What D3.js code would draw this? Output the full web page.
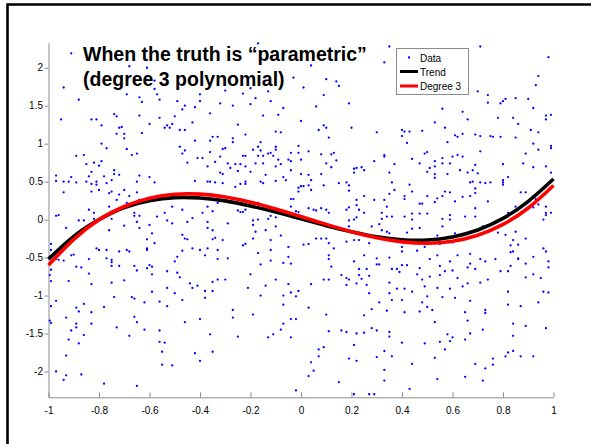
<!DOCTYPE html>
<html>
<head>
<meta charset="utf-8">
<script src="https://cdn.jsdelivr.net/npm/d3@7"></script>
<style>
  html, body { margin: 0; padding: 0; background: #fff; }
  svg { display: block; }
  text { font-family: "Liberation Sans", Arial, Helvetica, sans-serif; }
</style>
</head>
<body>
<svg id="chart" width="591" height="444"></svg>
<script>
// Noisy observations around the true curve
const points = [
  [-0.91,2.19],[-0.94,1.74],[-0.88,1.58],[-0.95,1.32],[-0.83,1.32],[-0.81,1.32],[-0.74,1.39],[-0.73,1.36],[-0.79,1.24],[-0.72,1.21],
  [-0.71,1.22],[-0.73,1.13],[-0.70,1.13],[-0.70,1.07],[-0.79,1.00],[-0.77,0.94],[-0.89,0.84],[-0.86,0.85],[-0.85,0.73],[-0.79,0.77],
  [-0.82,0.75],[-0.80,0.71],[-0.83,0.63],[-0.84,0.57],[-0.81,0.46],[-0.83,0.47],[-0.81,0.50],[-0.80,0.39],[-0.83,0.37],[-0.97,0.58],
  [-0.97,0.51],[-0.94,0.50],[-0.92,0.50],[-0.91,0.56],[-0.89,0.49],[-0.94,0.36],[-0.85,0.50],[-0.74,0.65],[-0.74,0.60],[-0.72,0.59],
  [-0.75,0.52],[-0.78,0.57],[-0.77,0.48],[-0.75,0.37],[-0.76,0.35],[-0.72,0.33],[-0.70,0.39],[-0.68,0.31],[-0.65,0.36],[-0.65,0.50],
  [-0.64,0.58],[-0.60,0.56],[-0.58,0.49],[-0.69,0.93],[-0.67,0.85],[-0.65,0.87],[-0.69,1.65],[-0.68,2.02],[-0.64,1.61],[-0.64,1.37],
  [-0.63,1.55],[-0.60,1.26],[-0.58,1.72],[-0.57,1.65],[-0.56,1.34],[-0.56,1.58],[-0.54,1.21],[-0.53,1.24],[-0.51,1.26],[-0.52,1.21],
  [-0.50,1.36],[-0.48,1.18],[-0.48,0.96],[-0.47,0.87],[-0.46,1.18],[-0.45,0.75],[-0.46,1.50],[-0.47,1.45],[-0.43,1.28],[-0.42,1.48],
  [-0.40,1.56],[-0.40,1.65],[-0.35,1.09],[-0.36,1.04],[-0.37,0.70],[-0.37,0.50],[-0.36,0.50],[-0.41,0.81],[-0.39,0.81],[-0.42,0.51],
  [-0.42,1.04],[-0.46,0.91],[-0.49,1.56],[-0.63,1.14],[-0.61,2.00],[-0.58,1.83],[-0.61,1.84],[-0.84,0.13],[-0.82,0.09],[-0.76,0.17],
  [-0.73,0.26],[-0.69,0.22],[-0.66,0.09],[-0.64,0.26],[-0.57,0.31],[-0.54,0.09],[-0.51,0.17],[-0.47,0.13],[-0.43,0.02],[-0.39,0.09],
  [-0.37,0.17],[-0.35,0.11],
  [-0.17,2.32],[0.04,2.03],[0.33,2.07],[-0.03,1.87],[0.10,1.85],[0.14,1.82],[0.15,1.76],[0.01,1.74],[0.09,1.64],[-0.30,1.70],
  [-0.23,1.66],[-0.20,1.73],[-0.18,1.60],[-0.13,1.69],[-0.32,1.53],[-0.27,1.50],[-0.20,1.52],[-0.12,1.56],[0.06,1.49],[0.19,1.53],
  [-0.15,1.37],[-0.09,1.38],[-0.07,1.47],[-0.36,1.40],[-0.25,1.25],[0.00,1.30],[0.09,1.24],[0.07,1.18],[0.10,1.21],[0.11,1.08],
  [0.20,1.21],[0.30,1.15],[-0.22,1.12],[-0.10,1.16],[-0.08,1.15],[-0.33,1.09],[-0.27,1.07],[-0.27,1.02],[-0.31,0.93],[-0.30,0.94],
  [-0.32,0.83],[-0.34,0.76],[-0.36,0.89],[-0.19,0.92],[-0.17,0.96],[-0.16,1.02],[-0.16,0.91],[-0.15,0.84],[-0.17,0.84],[-0.23,0.84],
  [-0.22,0.84],[-0.13,0.87],[-0.12,0.88],[-0.10,0.96],[-0.10,0.92],[-0.11,0.84],[-0.09,0.79],[-0.08,0.73],[-0.04,0.88],[-0.01,0.88],
  [-0.01,0.97],[-0.05,0.79],[-0.04,0.77],[0.00,0.79],[0.03,0.90],[0.08,0.86],[0.12,0.86],[0.13,0.88],[0.14,0.78],[0.10,0.74],
  [0.12,0.69],[0.08,0.60],[-0.32,0.62],[-0.31,0.60],[-0.29,0.74],[-0.26,0.73],[-0.24,0.73],[-0.22,0.70],[-0.28,0.68],[-0.25,0.64],
  [-0.18,0.74],[-0.20,0.63],[-0.15,0.74],[-0.14,0.59],[-0.10,0.70],[-0.07,0.56],[-0.06,0.52],[-0.10,0.51],[-0.16,0.50],[-0.15,0.48],
  [-0.22,0.50],[-0.22,0.47],[-0.24,0.47],[-0.26,0.43],[-0.31,0.48],[-0.34,0.49],[-0.04,0.65],[0.00,0.60],[0.03,0.59],[0.04,0.52],
  [-0.01,0.42],[-0.01,0.37],[0.00,0.44],[0.01,0.44],[0.03,0.45],[0.04,0.39],[-0.04,0.27],[-0.03,0.27],[0.09,0.45],[0.15,0.48],
  [0.18,0.49],[0.19,0.45],[0.19,0.38],[0.21,0.62],[0.21,0.67],[0.22,0.68],[0.24,0.69],[0.25,0.65],[0.29,0.77],[0.33,0.85],
  [0.22,0.26],[0.22,0.19],[0.25,0.31],[0.29,0.26],[0.33,0.26],[0.18,0.13],[0.19,0.16],[0.23,0.13],[0.25,0.09],[0.10,0.13],
  [0.11,0.09],[0.03,0.15],[0.05,0.13],[0.08,0.15],[0.06,0.12],[-0.29,0.24],[-0.25,0.12],[-0.24,0.10],[-0.23,0.10],[-0.22,0.13],
  [-0.17,0.22],[-0.14,0.17],[-0.12,0.05],[-0.10,0.03],[-0.04,0.17],[-0.02,0.11],[-0.01,0.10],[-0.33,0.22],
  [0.35,2.28],[0.71,2.28],[0.98,2.14],[0.94,1.89],[0.93,1.77],[0.70,1.69],[0.74,1.64],[0.74,1.54],[0.79,1.53],[0.80,1.56],
  [0.81,1.59],[0.85,1.60],[0.90,1.59],[0.92,1.47],[0.56,1.46],[0.64,1.42],[0.66,1.32],[0.78,1.34],[0.84,1.34],[0.86,1.26],
  [0.97,1.37],[0.99,1.38],[0.97,1.32],[0.53,1.28],[0.57,1.21],[0.40,1.18],[0.40,1.10],[0.41,1.16],[0.43,1.16],[0.48,1.17],
  [0.42,1.01],[0.61,1.11],[0.62,1.09],[0.64,1.13],[0.69,1.12],[0.71,1.10],[0.75,1.10],[0.76,1.09],[0.79,1.09],[0.85,1.08],
  [0.91,1.18],[0.94,1.15],[0.92,1.00],[0.94,0.92],[0.99,0.94],[0.99,0.97],[0.58,1.02],[0.71,0.90],[0.49,0.87],[0.50,0.89],
  [0.44,0.80],[0.47,0.74],[0.53,0.77],[0.56,0.74],[0.59,0.74],[0.56,0.81],[0.60,0.83],[0.62,0.85],[0.64,0.83],[0.89,0.87],
  [0.88,0.74],[0.92,0.69],[0.97,0.70],[0.80,0.73],[0.37,0.73],[0.35,0.62],[0.33,0.83],[0.36,0.49],[0.35,0.34],[0.37,0.39],
  [0.43,0.46],[0.44,0.37],[0.41,0.31],[0.41,0.27],[0.50,0.63],[0.51,0.68],[0.53,0.70],[0.53,0.60],[0.53,0.55],[0.58,0.60],
  [0.63,0.65],[0.66,0.62],[0.68,0.65],[0.69,0.72],[0.70,0.61],[0.67,0.49],[0.68,0.50],[0.71,0.49],[0.73,0.48],[0.75,0.49],
  [0.80,0.49],[0.80,0.52],[0.82,0.56],[0.89,0.36],[0.92,0.31],[0.93,0.27],[0.97,0.17],[0.99,0.62],[0.50,0.31],[0.53,0.23],
  [0.54,0.28],[0.56,0.31],[0.57,0.37],[0.59,0.36],[0.61,0.24],[0.64,0.30],[0.67,0.31],[0.69,0.35],[0.69,0.41],[0.74,0.24],
  [0.80,0.46],[0.87,0.36],[0.47,0.21],[0.48,0.21],[0.34,0.17],[0.32,0.09],[0.44,0.08],[0.47,0.08],[0.50,0.08],[0.59,0.06],
  [0.65,0.04],[0.69,0.15],[0.82,0.09],[0.85,0.17],[0.92,0.16],[0.94,0.20],[0.97,0.09],[0.99,0.09],
  [-0.97,0.05],[-0.96,0.06],[-0.88,-0.01],[-0.86,-0.01],[-0.82,0.01],[-0.78,0.05],[-0.75,0.01],[-0.66,0.05],[-0.64,0.05],[-0.57,0.04],
  [-0.53,-0.01],[-0.51,-0.05],[-0.45,-0.03],[-0.37,-0.03],[-0.35,-0.14],[-0.34,-0.24],[-0.99,-0.32],[-0.99,-0.40],[-0.97,-0.52],[-0.96,-0.53],
  [-0.94,-0.54],[-0.93,-0.11],[-0.91,-0.47],[-0.90,-0.46],[-0.89,-0.62],[-0.84,-0.52],[-0.81,-0.38],[-0.80,-0.40],[-0.77,-0.51],[-0.76,-0.14],
  [-0.75,-0.53],[-0.75,-0.56],[-0.75,-0.61],[-0.77,-0.40],[-0.72,-0.42],[-0.72,-0.61],[-0.70,-0.08],[-0.69,-0.40],[-0.68,-0.42],[-0.66,-0.61],
  [-0.65,-0.67],[-0.65,-0.03],[-0.64,-0.11],[-0.61,-0.26],[-0.61,-0.38],[-0.61,-0.40],[-0.60,-0.07],[-0.59,-0.18],[-0.58,-0.31],[-0.61,-0.64],
  [-0.60,-0.60],[-0.59,-0.62],[-0.59,-0.72],[-0.53,-0.68],[-0.53,-0.90],[-0.49,-0.49],[-0.50,-0.55],[-0.49,-0.70],[-0.48,-0.76],[-0.47,-0.20],
  [-0.46,-0.25],[-0.47,-0.41],[-0.45,-0.26],[-0.44,-0.84],[-0.43,-0.38],[-0.43,-0.90],[-0.41,-0.87],[-0.40,-0.40],[-0.38,-0.94],[-0.38,-0.47],
  [-0.37,-0.11],[-0.37,-0.38],[-0.35,-0.26],[-0.35,-0.82],[-0.99,-0.66],[-0.995,-0.73],[-0.99,-0.81],[-0.97,-1.07],[-0.99,-1.14],[-0.92,-0.81],
  [-0.89,-1.16],[-0.86,-1.11],[-0.87,-0.63],[-0.84,-0.71],[-0.83,-0.85],[-0.75,-0.83],[-0.74,-1.02],[-0.70,-0.80],[-0.67,-1.02],[-0.66,-1.04],
  [-0.62,-1.09],[-0.59,-0.95],[-0.56,-1.08],[-0.53,-1.14],[-0.50,-0.97],[-0.47,-1.06],[-0.38,-1.03],[-0.35,-0.94],[-0.995,-1.33],[-0.99,-1.36],
  [-0.93,-1.29],[-0.91,-1.46],[-0.89,-1.42],[-0.89,-1.37],[-0.88,-1.21],[-0.88,-1.63],[-0.86,-1.52],[-0.83,-1.22],[-0.83,-1.37],[-0.78,-1.15],
  [-0.73,-1.42],[-0.68,-1.53],[-0.66,-1.28],[-0.65,-1.35],[-0.62,-1.45],[-0.56,-1.46],[-0.56,-1.61],[-0.54,-1.62],[-0.55,-1.74],[-0.55,-1.91],
  [-0.46,-1.35],[-0.40,-1.31],[-0.42,-1.76],[-0.40,-1.86],[-0.36,-1.51],[-0.35,-1.74],[-0.97,-2.00],[-0.94,-2.11],[-0.93,-2.05],[-0.93,-1.79],
  [-0.92,-1.58],[-0.87,-2.04],[-0.78,-2.16],[-0.65,-2.19],[-0.51,-1.92],
  [-0.29,-0.05],[-0.19,-0.01],[-0.17,0.00],[-0.13,0.01],[-0.19,-0.07],[-0.18,-0.16],[-0.19,-0.25],[-0.14,-0.14],[-0.10,-0.09],[-0.12,-0.27],
  [-0.08,-0.21],[-0.31,-0.27],[-0.33,-0.40],[-0.33,-0.52],[-0.29,-0.51],[-0.23,-0.34],[-0.22,-0.32],[-0.17,-0.44],[-0.16,-0.59],[-0.12,-0.40],
  [-0.12,-0.54],[-0.07,-0.57],[-0.05,-0.36],[-0.05,-0.49],[-0.04,-0.58],[0.01,-0.33],[0.03,-0.32],[0.06,-0.25],[0.08,-0.25],[0.10,-0.25],
  [0.11,-0.31],[0.13,-0.38],[0.11,-0.47],[0.11,-0.52],[0.12,-0.62],[0.18,-0.29],[0.19,-0.09],[0.19,-0.01],[0.21,0.00],[0.22,0.03],
  [0.21,-0.27],[0.23,-0.27],[0.28,-0.09],[0.27,-0.31],[0.31,-0.06],[0.32,-0.14],[0.32,0.01],[0.30,-0.59],[0.30,-0.51],[0.26,-0.65],
  [0.25,-0.47],[0.23,-0.65],[0.21,-0.55],[-0.33,-0.79],[-0.30,-0.79],[-0.20,-0.72],[-0.21,-0.90],[-0.16,-1.00],[-0.14,-0.87],[-0.10,-0.79],
  [-0.05,-0.85],[-0.04,-0.96],[-0.07,-1.00],[-0.07,-1.12],[-0.02,-1.01],[-0.01,-0.94],[0.04,-0.85],[0.09,-0.79],[0.11,-0.79],[0.16,-0.73],
  [0.18,-0.86],[0.18,-0.77],[0.19,-0.79],[0.22,-0.84],[0.23,-0.73],[0.24,-0.78],[0.26,-0.86],[0.27,-0.97],[0.27,-0.74],[-0.27,-1.19],
  [-0.27,-1.29],[-0.19,-1.25],[-0.25,-1.54],[-0.13,-1.55],[-0.11,-1.51],[-0.08,-1.45],[-0.07,-1.37],[-0.04,-1.31],[-0.02,-1.31],[-0.04,-1.55],
  [0.03,-1.16],[0.10,-1.25],[0.11,-1.47],[0.16,-1.46],[0.18,-1.48],[0.22,-1.50],[0.25,-1.49],[0.28,-1.43],[0.30,-1.46],[0.25,-1.26],
  [0.28,-1.18],[0.31,-1.09],[0.07,-1.71],[0.09,-1.68],[0.07,-1.80],[0.04,-1.88],[0.05,-1.99],[0.03,-2.06],[0.19,-1.83],[0.22,-1.86],
  [0.21,-1.65],[0.30,-1.81],[0.33,-1.73],[0.33,-1.98],[0.33,-2.12],[0.15,-2.14],[-0.02,-2.25],[0.21,-2.30],[0.27,-2.30],[0.29,-2.30],
  [0.34,0.04],[0.36,0.04],[0.41,0.04],[0.44,0.00],[0.47,-0.11],[0.56,0.01],[0.56,-0.09],[0.59,0.00],[0.69,0.04],[0.96,0.00],
  [0.97,0.06],[0.34,-0.16],[0.35,-0.18],[0.42,-0.17],[0.44,-0.12],[0.46,-0.41],[0.40,-0.36],[0.40,-0.42],[0.49,-0.36],[0.54,-0.21],
  [0.55,-0.32],[0.60,-0.30],[0.61,-0.18],[0.72,-0.09],[0.78,-0.17],[0.81,-0.20],[0.83,-0.34],[0.84,-0.27],[0.85,-0.16],[0.89,-0.25],
  [0.86,-0.33],[0.84,-0.42],[0.86,-0.51],[0.89,-0.58],[0.92,-0.49],[0.96,-0.38],[0.98,-0.55],[0.98,-0.63],[0.97,-0.42],[0.31,-0.59],
  [0.35,-0.50],[0.36,-0.65],[0.38,-0.65],[0.39,-0.69],[0.40,-0.60],[0.42,-0.60],[0.46,-0.72],[0.47,-0.64],[0.48,-0.79],[0.51,-0.52],
  [0.51,-0.75],[0.54,-0.47],[0.55,-0.61],[0.55,-0.73],[0.57,-0.68],[0.59,-0.55],[0.60,-0.67],[0.62,-0.77],[0.62,-0.47],[0.66,-0.63],
  [0.67,-0.45],[0.67,-0.58],[0.69,-0.65],[0.71,-0.52],[0.73,-0.55],[0.74,-0.79],[0.77,-0.52],[0.79,-0.68],[0.82,-0.68],[0.83,-0.61],
  [0.83,-0.43],[0.86,-0.52],[0.89,-0.76],[0.92,-0.72],[0.95,-0.77],[0.66,-0.84],[0.71,-0.83],[0.35,-0.83],[0.35,-0.97],[0.38,-0.91],
  [0.36,-1.06],[0.40,-1.06],[0.41,-0.91],[0.44,-0.95],[0.41,-1.22],[0.47,-1.21],[0.48,-1.09],[0.49,-0.88],[0.50,-1.01],[0.50,-1.15],
  [0.52,-1.19],[0.53,-1.35],[0.54,-0.90],[0.56,-1.02],[0.59,-0.91],[0.61,-1.03],[0.64,-0.88],[0.67,-1.07],[0.65,-1.22],[0.66,-1.33],
  [0.67,-1.50],[0.72,-1.45],[0.73,-1.23],[0.73,-1.19],[0.82,-0.95],[0.82,-1.12],[0.84,-1.37],[0.87,-1.14],[0.89,-1.40],[0.94,-1.09],
  [0.96,-0.95],[0.98,-0.96],[0.97,-1.43],[0.34,-1.20],[0.35,-1.48],[0.35,-1.54],[0.40,-1.62],[0.49,-1.63],[0.55,-1.61],[0.57,-1.71],
  [0.58,-1.51],[0.59,-1.60],[0.60,-1.55],[0.65,-1.58],[0.36,-1.80],[0.44,-1.90],[0.53,-1.82],[0.54,-2.10],[0.65,-2.07],[0.69,-1.90],
  [0.72,-2.12],[0.73,-1.96],[0.76,-1.83],[0.76,-1.91],[0.81,-1.80],[0.82,-1.75],[0.84,-1.73],[0.87,-1.80],[0.92,-1.80],[0.84,-1.53],
  [0.43,-2.23]
];

// Sample positions along x for the two smooth curves
const curveX   = [-1, -0.9, -0.8, -0.7, -0.6, -0.5, -0.4, -0.3, -0.2, -0.1, 0, 0.1, 0.2, 0.3, 0.4, 0.5, 0.6, 0.7, 0.8, 0.9, 1];
// True underlying curve
const trendY   = [-0.52, -0.22, 0.00, 0.16, 0.25, 0.29, 0.285, 0.247, 0.18, 0.10, 0.01, -0.08, -0.16, -0.227, -0.265, -0.269, -0.229, -0.137, 0.016, 0.24, 0.535];
// Fitted cubic
const degree3Y = [-0.60, -0.26, 0.00, 0.173, 0.283, 0.334, 0.336, 0.298, 0.230, 0.141, 0.04, -0.063, -0.159, -0.239, -0.293, -0.311, -0.285, -0.206, -0.063, 0.153, 0.45];

const xTicks = [-1, -0.8, -0.6, -0.4, -0.2, 0, 0.2, 0.4, 0.6, 0.8, 1];
const yTicks = [-2, -1.5, -1, -0.5, 0, 0.5, 1, 1.5, 2];
const xDomain = [-1, 1];
const yDomain = [-2.34, 2.33];

const titleLines = ["When the truth is \u201Cparametric\u201D", "(degree 3 polynomial)"];
const legendLabels = ["Data", "Trend", "Degree 3"];
const seriesColors = { data: "#0000ff", trend: "#000000", fit: "#ff0000" };

// ---- layout ----
const plot = { left: 48.5, right: 553.5, top: 42.7, bottom: 397.3 };
const svg = d3.select("#chart");

const x = d3.scaleLinear().domain(xDomain).range([plot.left, plot.right]);
const y = d3.scaleLinear().domain(yDomain).range([plot.bottom, plot.top]);

// figure frame
svg.append("path")
  .attr("d", "M7.5,444 V4.5 H591")
  .attr("fill", "none")
  .attr("stroke", "#000")
  .attr("stroke-width", 2.6);

svg.append("clipPath").attr("id", "plotClip")
  .append("rect")
  .attr("x", plot.left - 2).attr("y", plot.top - 2)
  .attr("width", plot.right - plot.left + 4)
  .attr("height", plot.bottom - plot.top + 4);

// axes
const axisColor = "#8c8c8c";
const xAxis = svg.append("g")
  .attr("transform", `translate(0,${plot.bottom})`)
  .call(d3.axisBottom(x).tickValues(xTicks).tickFormat(d => String(d))
        .tickSizeInner(-5).tickSizeOuter(0));
xAxis.selectAll("text").attr("y", 16.5).attr("dy", 0);

const yAxis = svg.append("g")
  .attr("transform", `translate(${plot.left},0)`)
  .call(d3.axisLeft(y).tickValues(yTicks).tickFormat(d => String(d))
        .tickSizeInner(4).tickSizeOuter(0).tickPadding(1.5));

[xAxis, yAxis].forEach(g => {
  g.select(".domain").attr("stroke", axisColor);
  g.selectAll(".tick line").attr("stroke", axisColor);
  g.selectAll(".tick text")
    .attr("fill", "#000")
    .style("font-family", "'Liberation Sans', Arial, sans-serif")
    .style("font-size", "10px");
});

// scatter
const plotArea = svg.append("g").attr("clip-path", "url(#plotClip)");
plotArea.append("g")
  .selectAll("circle")
  .data(points)
  .join("circle")
  .attr("cx", d => x(d[0]))
  .attr("cy", d => y(d[1]))
  .attr("r", 1.15)
  .attr("fill", seriesColors.data);

// curves
const line = d3.line().x(d => x(d[0])).y(d => y(d[1])).curve(d3.curveNatural);
plotArea.append("path")
  .datum(curveX.map((v, i) => [v, trendY[i]]))
  .attr("d", line)
  .attr("fill", "none")
  .attr("stroke", seriesColors.trend)
  .attr("stroke-width", 3.6);
plotArea.append("path")
  .datum(curveX.map((v, i) => [v, degree3Y[i]]))
  .attr("d", line)
  .attr("fill", "none")
  .attr("stroke", seriesColors.fit)
  .attr("stroke-width", 3.6);

// title annotation
const title = svg.append("text")
  .attr("x", 83)
  .attr("y", 61)
  .attr("fill", "#000")
  .style("font-size", "19.5px")
  .style("font-weight", "bold");
title.selectAll("tspan")
  .data(titleLines)
  .join("tspan")
  .attr("x", 83)
  .attr("dy", (d, i) => i === 0 ? 0 : 25)
  .text(d => d);

// legend
const legend = svg.append("g");
legend.append("rect")
  .attr("x", 396.5).attr("y", 48.5)
  .attr("width", 72).attr("height", 46)
  .attr("fill", "#fff")
  .attr("stroke", "#8c8c8c")
  .attr("stroke-width", 1);
const rowY = [57.5, 71.5, 86];
legend.append("circle")
  .attr("cx", 409).attr("cy", rowY[0]).attr("r", 1.15)
  .attr("fill", seriesColors.data);
legend.append("line")
  .attr("x1", 400).attr("x2", 418).attr("y1", rowY[1]).attr("y2", rowY[1])
  .attr("stroke", seriesColors.trend).attr("stroke-width", 3);
legend.append("line")
  .attr("x1", 400).attr("x2", 418).attr("y1", rowY[2]).attr("y2", rowY[2])
  .attr("stroke", seriesColors.fit).attr("stroke-width", 3);
legend.selectAll("text.lbl")
  .data(legendLabels)
  .join("text")
  .attr("class", "lbl")
  .attr("x", 420)
  .attr("y", (d, i) => rowY[i] + 4)
  .attr("fill", "#000")
  .style("font-size", "10px")
  .text(d => d);
</script>
</body>
</html>
